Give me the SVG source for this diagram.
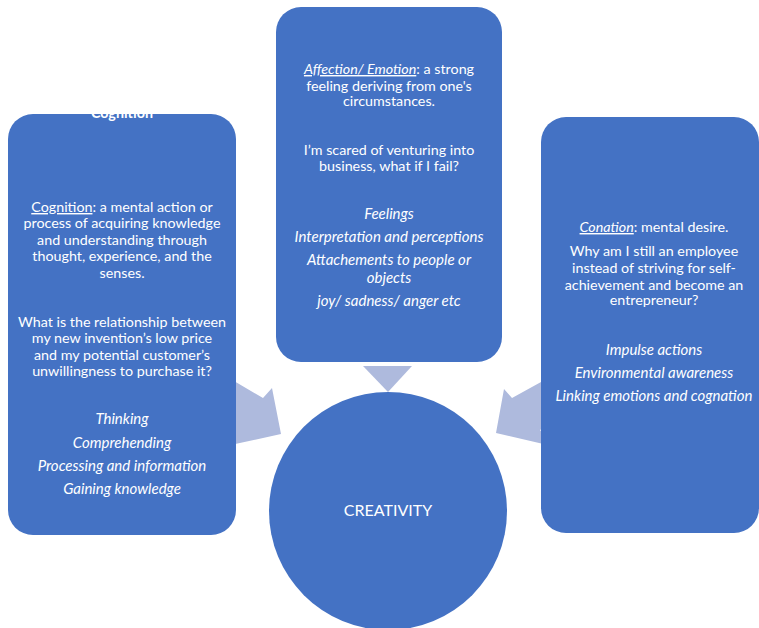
<svg xmlns="http://www.w3.org/2000/svg" width="759" height="628" viewBox="0 0 759 628">
<style>
.box{fill:#4472C4;}
.arr{fill:#AEBADD;}
text{font-family:Lato,"Open Sans","Liberation Sans",sans-serif;font-size:14.3px;fill:#FFFFFF;text-anchor:middle;}
.it{font-style:italic;font-size:15px;}
.u{text-decoration:underline;}
</style>
<g id="connectors">
<polygon class="arr" points="363,366 412,366 388,392"/>
<polygon class="arr" points="190,355 263,398 272,388 281,434 226,446 236,430 170,390"/>
<polygon class="arr" points="590,355 512,398 504,389 496,433 552,446 540,430 610,390"/>
</g>
<g id="node-cognition">
<rect class="box" x="8" y="114" width="228" height="421" rx="25" ry="25"/>
<text x="122" y="118" style="font-weight:bold">Cognition</text>
<text x="122" y="212"><tspan class="u">Cognition</tspan>: a mental action or</text>
<text x="122" y="228">process of acquiring knowledge</text>
<text x="122" y="245">and understanding through</text>
<text x="122" y="261">thought, experience, and the</text>
<text x="122" y="278">senses.</text>
<text x="122" y="327">What is the relationship between</text>
<text x="122" y="343">my new invention’s low price</text>
<text x="122" y="360">and my potential customer’s</text>
<text x="122" y="376">unwillingness to purchase it?</text>
<text class="it" x="122" y="424">Thinking</text>
<text class="it" x="122" y="448">Comprehending</text>
<text class="it" x="122" y="471">Processing and information</text>
<text class="it" x="122" y="494">Gaining knowledge</text>
</g>
<g id="node-affection">
<rect class="box" x="276" y="7" width="226" height="355" rx="25" ry="25"/>
<text x="389" y="74"><tspan class="it u" style="font-size:14.3px">Affection/ Emotion</tspan>: a strong</text>
<text x="389" y="90.5">feeling deriving from one's</text>
<text x="389" y="106">circumstances.</text>
<text x="389" y="154.5">I’m scared of venturing into</text>
<text x="389" y="171">business, what if I fail?</text>
<text class="it" x="389" y="218.5">Feelings</text>
<text class="it" x="389" y="242">Interpretation and perceptions</text>
<text class="it" x="389" y="265">Attachements to people or</text>
<text class="it" x="389" y="282.5">objects</text>
<text class="it" x="389" y="306">joy/ sadness/ anger etc</text>
</g>
<g id="node-conation">
<rect class="box" x="541" y="117" width="218" height="416" rx="25" ry="25"/>
<text x="654" y="232"><tspan class="it u" style="font-size:14.3px">Conation</tspan>: mental desire.</text>
<text x="654" y="256">Why am I still an employee</text>
<text x="654" y="273">instead of striving for self-</text>
<text x="654" y="289.5">achievement and become an</text>
<text x="654" y="305">entrepreneur?</text>
<text class="it" x="654" y="354.5">Impulse actions</text>
<text class="it" x="654" y="378">Environmental awareness</text>
<text class="it" x="654" y="401">Linking emotions and cognation</text>
</g>
<g id="node-creativity">
<circle class="box" cx="388" cy="511" r="119"/>
<text x="388" y="515.5" style="font-size:16px">CREATIVITY</text>
</g>
</svg>
